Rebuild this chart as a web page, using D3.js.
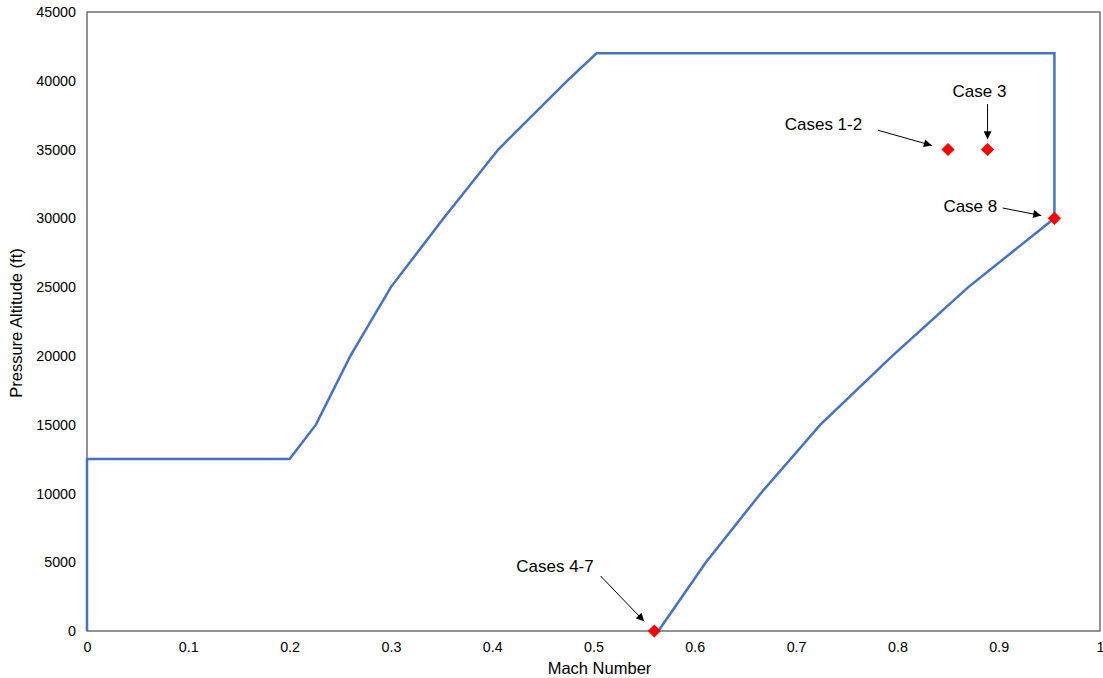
<!DOCTYPE html>
<html>
<head>
<meta charset="utf-8">
<script src="https://cdn.jsdelivr.net/npm/d3@7"></script>
<style>
  body { margin: 0; background: #fff; }
  text { font-family: "Liberation Sans", Arial, sans-serif; fill: #000; }
</style>
</head>
<body>
<div id="chart"></div>
<script>
// flight envelope, traced clockwise from the origin
const envMach = [0, 0, 0.2, 0.226, 0.26, 0.3, 0.352, 0.406, 0.474, 0.503, 0.955, 0.955, 0.87, 0.795, 0.724, 0.665, 0.611, 0.564]
const envAlt  = [0, 12500, 12500, 15000, 20000, 25000, 30000, 35000, 40000, 42000, 42000, 30000, 25000, 20000, 15000, 10000, 5000, 0]

// test cases
const caseMach = [0.85, 0.889, 0.955, 0.56]
const caseAlt  = [35000, 35000, 30000, 0]

// annotation labels: text position (data units) and arrow start/end (data units)
const noteText  = ["Cases 1-2", "Case 3", "Case 8", "Cases 4-7"]
const noteTextX = [0.727, 0.881, 0.872, 0.462]
const noteTextY = [36450, 38820, 30450, 4280]
const noteFrom  = [[0.781, 36400], [0.889, 38300], [0.904, 30750], [0.507, 4000]]
const noteTo    = [[0.834, 35300], [0.889, 35750], [0.942, 30200], [0.550, 700]]

const xTicks = [0, 0.1, 0.2, 0.3, 0.4, 0.5, 0.6, 0.7, 0.8, 0.9, 1]
const yTicks = d3.range(0, 45001, 5000)

const margin = ({top: 12, right: 3, bottom: 47, left: 87})
const width = 1103 - margin.left - margin.right,
      height = 678 - margin.top - margin.bottom;

const svg = d3.select("#chart").append("svg")
    .attr("width", width + margin.left + margin.right)
    .attr("height", height + margin.top + margin.bottom)
  .append("g")
    .attr("transform", "translate(" + margin.left + "," + margin.top + ")");

const xScale = d3.scaleLinear().domain([0, 1]).range([0, width])
const yScale = d3.scaleLinear().domain([0, 45000]).range([height, 0])

svg.append("defs").append("marker")
    .attr("id", "arrow")
    .attr("viewBox", "0 0 10 10")
    .attr("refX", 10).attr("refY", 5)
    .attr("markerWidth", 9).attr("markerHeight", 8)
    .attr("markerUnits", "userSpaceOnUse")
    .attr("orient", "auto")
  .append("path")
    .attr("d", "M0,0 L10,5 L0,10 z")
    .attr("fill", "#000")

// axes (labels only, no tick marks)
const xAxis = d3.axisBottom(xScale).tickValues(xTicks).tickSize(0).tickPadding(11)
    .tickFormat(d => d === 0 || d === 1 ? d : d3.format(".1f")(d))
svg.append("g")
    .attr("class", "axis x-axis")
    .attr("transform", `translate(0, ${height})`)
    .call(xAxis)

const yAxis = d3.axisLeft(yScale).tickValues(yTicks).tickSize(0).tickPadding(11)
    .tickFormat(d3.format("d"))
svg.append("g")
    .attr("class", "axis y-axis")
    .call(yAxis)

svg.selectAll(".axis .domain").remove()
svg.selectAll(".axis text").style("font-size", "14.3px")

// plot frame
svg.append("rect")
    .attr("x", 0).attr("y", 0)
    .attr("width", width).attr("height", height)
    .attr("fill", "none")
    .attr("stroke", "#595959")
    .attr("stroke-width", 1.3)

svg.append("text")
    .attr("x", width / 2 + 6)
    .attr("y", height + 43)
    .attr("text-anchor", "middle")
    .style("font-size", "16.5px")
    .text("Mach Number")

svg.append("text")
    .attr("transform", "rotate(-90)")
    .attr("x", -311)
    .attr("y", -65)
    .attr("text-anchor", "middle")
    .style("font-size", "16.5px")
    .text("Pressure Altitude (ft)")

// envelope
const line = d3.line()
    .x(i => xScale(envMach[i]))
    .y(i => yScale(envAlt[i]))

svg.append("path")
    .datum(d3.range(envMach.length))
    .attr("d", line)
    .attr("fill", "none")
    .attr("stroke", "#4472C4")
    .attr("stroke-width", 2.5)
    .attr("stroke-linejoin", "miter")

// case markers
svg.selectAll("path.case")
    .data(d3.range(caseMach.length))
    .enter()
    .append("path")
    .attr("class", "case")
    .attr("d", d3.symbol().type(d3.symbolDiamond2).size(110))
    .attr("transform", i => `translate(${xScale(caseMach[i])},${yScale(caseAlt[i])})`)
    .attr("fill", "#FF0000")

// annotations
svg.selectAll("line.note")
    .data(d3.range(noteText.length))
    .enter()
    .append("line")
    .attr("class", "note")
    .attr("x1", i => xScale(noteFrom[i][0]))
    .attr("y1", i => yScale(noteFrom[i][1]))
    .attr("x2", i => xScale(noteTo[i][0]))
    .attr("y2", i => yScale(noteTo[i][1]))
    .attr("stroke", "#000")
    .attr("stroke-width", 1)
    .attr("marker-end", "url(#arrow)")

svg.selectAll("text.note")
    .data(d3.range(noteText.length))
    .enter()
    .append("text")
    .attr("class", "note")
    .attr("x", i => xScale(noteTextX[i]))
    .attr("y", i => yScale(noteTextY[i]))
    .attr("text-anchor", "middle")
    .style("font-size", "17px")
    .text(i => noteText[i])
</script>
</body>
</html>
